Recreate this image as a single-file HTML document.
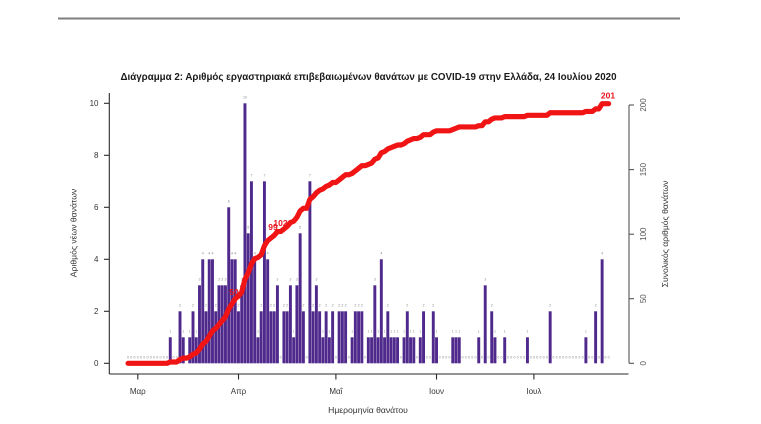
<!DOCTYPE html>
<html><head><meta charset="utf-8"><style>
html,body{margin:0;padding:0;background:#fff;}
svg{display:block;font-family:"Liberation Sans","DejaVu Sans",sans-serif;}
</style></head><body>
<svg width="761" height="424" viewBox="0 0 761 424" xmlns="http://www.w3.org/2000/svg">
<rect width="761" height="424" fill="#fff"/>
<line x1="58" y1="18.5" x2="680" y2="18.5" stroke="#7f7f7f" stroke-width="2"/>
<text x="368.5" y="80" text-anchor="middle" font-weight="bold" font-size="10" fill="#1a1a1a" textLength="496" lengthAdjust="spacingAndGlyphs">Διάγραμμα 2: Αριθμός εργαστηριακά επιβεβαιωμένων θανάτων με COVID-19 στην Ελλάδα, 24 Ιουλίου 2020</text>

<!-- bars -->
<g transform="translate(137.8 363.3) scale(3.247 -26)" fill="#4f2a8c">
<rect x="9.55" y="0" width="0.9" height="1"/>
<rect x="12.55" y="0" width="0.9" height="2"/>
<rect x="13.55" y="0" width="0.9" height="1"/>
<rect x="15.55" y="0" width="0.9" height="1"/>
<rect x="16.55" y="0" width="0.9" height="2"/>
<rect x="17.55" y="0" width="0.9" height="1"/>
<rect x="18.55" y="0" width="0.9" height="3"/>
<rect x="19.55" y="0" width="0.9" height="4"/>
<rect x="20.55" y="0" width="0.9" height="2"/>
<rect x="21.55" y="0" width="0.9" height="4"/>
<rect x="22.55" y="0" width="0.9" height="4"/>
<rect x="23.55" y="0" width="0.9" height="2"/>
<rect x="24.55" y="0" width="0.9" height="3"/>
<rect x="25.55" y="0" width="0.9" height="3"/>
<rect x="26.55" y="0" width="0.9" height="3"/>
<rect x="27.55" y="0" width="0.9" height="6"/>
<rect x="28.55" y="0" width="0.9" height="4"/>
<rect x="29.55" y="0" width="0.9" height="4"/>
<rect x="30.55" y="0" width="0.9" height="2"/>
<rect x="31.55" y="0" width="0.9" height="3"/>
<rect x="32.55" y="0" width="0.9" height="10"/>
<rect x="33.55" y="0" width="0.9" height="5"/>
<rect x="34.55" y="0" width="0.9" height="7"/>
<rect x="35.55" y="0" width="0.9" height="4"/>
<rect x="36.55" y="0" width="0.9" height="1"/>
<rect x="37.55" y="0" width="0.9" height="2"/>
<rect x="38.55" y="0" width="0.9" height="7"/>
<rect x="39.55" y="0" width="0.9" height="4"/>
<rect x="40.55" y="0" width="0.9" height="2"/>
<rect x="41.55" y="0" width="0.9" height="2"/>
<rect x="42.55" y="0" width="0.9" height="3"/>
<rect x="44.55" y="0" width="0.9" height="2"/>
<rect x="45.55" y="0" width="0.9" height="2"/>
<rect x="46.55" y="0" width="0.9" height="3"/>
<rect x="47.55" y="0" width="0.9" height="1"/>
<rect x="48.55" y="0" width="0.9" height="3"/>
<rect x="49.55" y="0" width="0.9" height="5"/>
<rect x="50.55" y="0" width="0.9" height="2"/>
<rect x="52.55" y="0" width="0.9" height="7"/>
<rect x="53.55" y="0" width="0.9" height="2"/>
<rect x="54.55" y="0" width="0.9" height="3"/>
<rect x="55.55" y="0" width="0.9" height="2"/>
<rect x="56.55" y="0" width="0.9" height="1"/>
<rect x="57.55" y="0" width="0.9" height="2"/>
<rect x="58.55" y="0" width="0.9" height="1"/>
<rect x="59.55" y="0" width="0.9" height="2"/>
<rect x="61.55" y="0" width="0.9" height="2"/>
<rect x="62.55" y="0" width="0.9" height="2"/>
<rect x="63.55" y="0" width="0.9" height="2"/>
<rect x="65.55" y="0" width="0.9" height="1"/>
<rect x="66.55" y="0" width="0.9" height="2"/>
<rect x="67.55" y="0" width="0.9" height="2"/>
<rect x="68.55" y="0" width="0.9" height="2"/>
<rect x="70.55" y="0" width="0.9" height="1"/>
<rect x="71.55" y="0" width="0.9" height="1"/>
<rect x="72.55" y="0" width="0.9" height="3"/>
<rect x="73.55" y="0" width="0.9" height="1"/>
<rect x="74.55" y="0" width="0.9" height="4"/>
<rect x="75.55" y="0" width="0.9" height="1"/>
<rect x="76.55" y="0" width="0.9" height="2"/>
<rect x="77.55" y="0" width="0.9" height="1"/>
<rect x="78.55" y="0" width="0.9" height="1"/>
<rect x="79.55" y="0" width="0.9" height="1"/>
<rect x="81.55" y="0" width="0.9" height="1"/>
<rect x="82.55" y="0" width="0.9" height="2"/>
<rect x="83.55" y="0" width="0.9" height="1"/>
<rect x="84.55" y="0" width="0.9" height="1"/>
<rect x="86.55" y="0" width="0.9" height="1"/>
<rect x="87.55" y="0" width="0.9" height="2"/>
<rect x="90.55" y="0" width="0.9" height="2"/>
<rect x="91.55" y="0" width="0.9" height="1"/>
<rect x="96.55" y="0" width="0.9" height="1"/>
<rect x="97.55" y="0" width="0.9" height="1"/>
<rect x="98.55" y="0" width="0.9" height="1"/>
<rect x="104.55" y="0" width="0.9" height="1"/>
<rect x="106.55" y="0" width="0.9" height="3"/>
<rect x="108.55" y="0" width="0.9" height="2"/>
<rect x="109.55" y="0" width="0.9" height="1"/>
<rect x="112.55" y="0" width="0.9" height="1"/>
<rect x="119.55" y="0" width="0.9" height="1"/>
<rect x="126.55" y="0" width="0.9" height="2"/>
<rect x="137.55" y="0" width="0.9" height="1"/>
<rect x="140.55" y="0" width="0.9" height="2"/>
<rect x="142.55" y="0" width="0.9" height="4"/>
</g>

<!-- value labels -->
<g font-size="3.6" fill="#8a8a8a" text-anchor="middle">
<text y="358.3" x="128.06 131.31 134.55 137.8 141.05 144.29 147.54 150.79 154.04 157.28 160.53 163.78 167.02 173.52 176.76 186.51 280.67 306.64 335.87 348.86 365.09 400.81 417.04 426.78 430.03 439.77 443.02 446.27 449.51 462.50 465.75 468.99 472.24 475.49 481.98 488.48 498.22 501.46 507.96 511.21 514.45 517.70 520.95 524.19 530.69 533.93 537.18 540.43 543.68 546.92 553.42 556.66 559.91 563.16 566.40 569.65 572.90 576.15 579.39 582.64 589.13 592.38 598.87 605.37 608.62">00000000000000000000000000000000000000000000000000000000000000000</text>
<text y="332.3" x="170.27 183.26 189.75 196.25 257.94 293.66 322.88 329.37 352.10 368.34 371.58 378.08 384.57 391.07 394.31 397.56 404.05 410.55 413.80 420.29 436.52 452.76 456.01 459.25 478.74 494.97 504.71 527.44 585.89">11111111111111111111111111111</text>
<text y="306.3" x="180.01 193.00 205.99 215.73 238.46 261.19 270.93 274.17 283.92 287.16 303.40 313.14 319.63 326.13 332.62 339.11 342.36 345.61 355.35 358.60 361.84 387.82 407.30 423.54 433.28 491.72 550.17 595.63">2222222222222222222222222222</text>
<text y="280.3" x="199.49 218.98 222.22 225.47 241.70 277.42 290.41 296.90 316.39 374.83 485.23">33333333333</text>
<text y="254.3" x="202.74 209.23 212.48 231.96 235.21 254.69 267.68 381.33 602.12">444444444</text>
<text y="228.3" x="248.20 300.15">55</text>
<text y="202.3" x="228.72">6</text>
<text y="176.3" x="251.45 264.43 309.89">777</text>
<text y="98.3" x="244.95">10</text>
</g>

<!-- cumulative curve -->
<g transform="translate(137.8 363.3) scale(3.247 -1.2915)">
<polyline vector-effect="non-scaling-stroke" fill="none" stroke="#f01414" stroke-width="5.2" stroke-linejoin="round" stroke-linecap="round" points="-3,0 9,0 10,1 12,1 13,3 14,4 15,4 16,5 17,7 18,8 19,11 20,15 21,17 22,21 23,25 24,27 25,30 26,33 27,36 28,42 29,46 30,50 31,52 32,55 33,65 34,70 35,77 36,81 37,82 38,84 39,91 40,95 41,97 42,99 43,102 44,102 45,104 46,106 47,109 48,110 49,113 50,118 51,120 52,120 53,127 54,129 55,132 56,134 57,135 58,137 59,138 60,140 61,140 62,142 63,144 64,146 65,146 66,147 67,149 68,151 69,153 70,153 71,154 72,155 73,158 74,159 75,163 76,164 77,166 78,167 79,168 80,169 81,169 82,170 83,172 84,173 85,174 86,174 87,175 88,177 90,177 91,179 92,180 96,180 97,181 98,182 99,183 104,183 105,184 106,184 107,187 108,187 109,189 110,190 112,190 113,191 119,191 120,192 126,192 127,194 137,194 138,195 140,195 141,197 142,197 143,201 145,201"/>
</g>

<!-- annotations -->
<g font-size="8.5" font-weight="bold" fill="#e8141c" text-anchor="middle">
<text x="234" y="295">50</text>
<text x="273" y="230">99</text>
<text x="280.5" y="226">102</text>
<text x="608" y="98.5">201</text>
</g>

<!-- axes -->
<g stroke="#2a2a2a" stroke-width="1.1" fill="none">
<line x1="109.3" y1="93" x2="109.3" y2="374"/>
<line x1="109.3" y1="374" x2="628.5" y2="374"/>
<line x1="104" y1="363.3" x2="109.3" y2="363.3"/>
<line x1="104" y1="311.3" x2="109.3" y2="311.3"/>
<line x1="104" y1="259.3" x2="109.3" y2="259.3"/>
<line x1="104" y1="207.3" x2="109.3" y2="207.3"/>
<line x1="104" y1="155.3" x2="109.3" y2="155.3"/>
<line x1="104" y1="103.3" x2="109.3" y2="103.3"/>
<line x1="137.8" y1="374" x2="137.8" y2="379.5"/>
<line x1="238.5" y1="374" x2="238.5" y2="379.5"/>
<line x1="335.9" y1="374" x2="335.9" y2="379.5"/>
<line x1="436.5" y1="374" x2="436.5" y2="379.5"/>
<line x1="533.9" y1="374" x2="533.9" y2="379.5"/>
</g>
<g stroke="#555" stroke-width="1.1" fill="none">
<line x1="629" y1="105" x2="629" y2="363.3"/>
<line x1="629" y1="363.3" x2="634" y2="363.3"/>
<line x1="629" y1="298.7" x2="634" y2="298.7"/>
<line x1="629" y1="234.2" x2="634" y2="234.2"/>
<line x1="629" y1="169.6" x2="634" y2="169.6"/>
<line x1="629" y1="105" x2="634" y2="105"/>
</g>

<g font-size="8" fill="#333" text-anchor="end">
<text x="98.5" y="366.2">0</text>
<text x="98.5" y="314.2">2</text>
<text x="98.5" y="262.2">4</text>
<text x="98.5" y="210.2">6</text>
<text x="98.5" y="158.2">8</text>
<text x="98.5" y="106.2">10</text>
</g>
<g font-size="8" fill="#333" text-anchor="middle">
<text x="137.8" y="394">Μαρ</text>
<text x="238.5" y="394">Απρ</text>
<text x="335.9" y="394">Μαΐ</text>
<text x="436.5" y="394">Ιουν</text>
<text x="533.9" y="394">Ιουλ</text>
<text x="368" y="413" font-size="8.6">Ημερομηνία θανάτου</text>
<text transform="translate(76.3 233) rotate(-90)" font-size="8.6">Αριθμός νέων θανάτων</text>
<text transform="translate(668 234) rotate(-90)" font-size="8.6">Συνολικός αριθμός θανάτων</text>
<text transform="translate(646 363.3) rotate(-90)" fill="#555">0</text>
<text transform="translate(646 298.7) rotate(-90)" fill="#555">50</text>
<text transform="translate(646 234.2) rotate(-90)" fill="#555">100</text>
<text transform="translate(646 169.6) rotate(-90)" fill="#555">150</text>
<text transform="translate(646 105) rotate(-90)" fill="#555">200</text>
</g>
</svg>
</body></html>
